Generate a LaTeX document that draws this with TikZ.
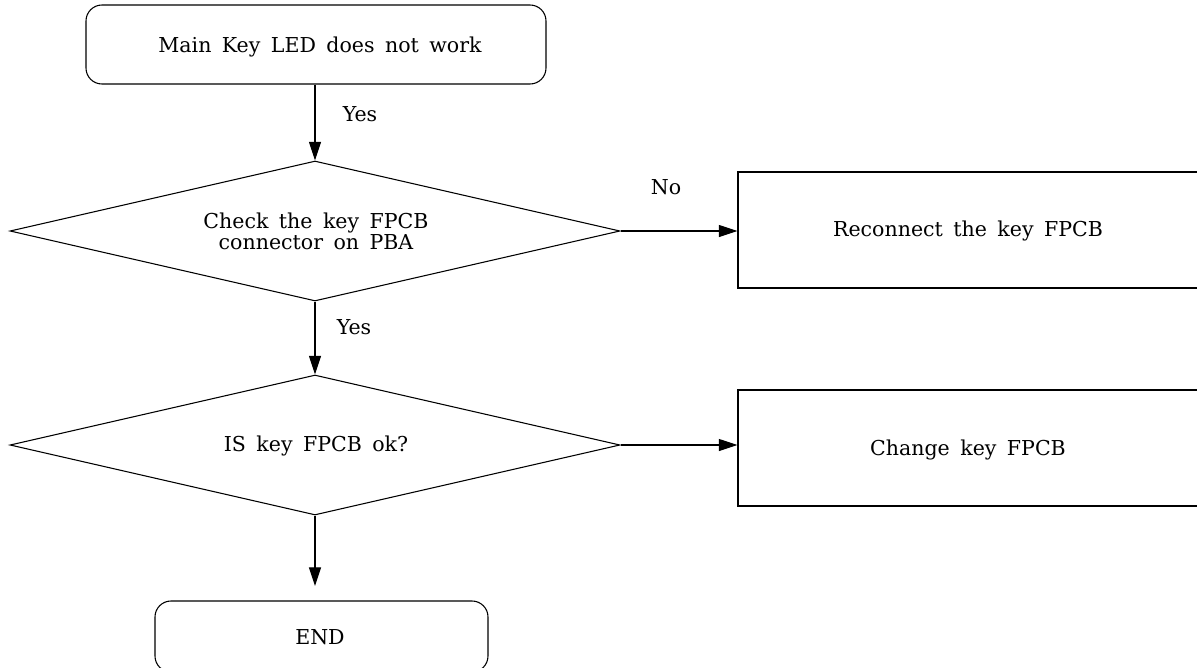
\documentclass[tikz,border=0pt]{standalone}
\usepackage{fontspec}
\setmainfont[WordSpace=1.6]{DejaVu Serif}
\usetikzlibrary{shapes.geometric,arrows.meta}
\begin{document}
\begin{tikzpicture}[x=0.75pt,y=-0.75pt,
  line width=0.8pt,
  txt/.style={font=\fontsize{15.4}{13.5}\selectfont},
  term/.style={draw,rounded corners=12pt,inner sep=0pt},
  proc/.style={draw,inner sep=0pt},
  dec/.style={draw,diamond,shape aspect=4.36,inner sep=0pt,minimum width=457.5pt,minimum height=105pt},
  arr/.style={-{Triangle[length=14pt,width=9pt]}},
  lbl/.style={txt}]
\useasboundingbox (0,0) rectangle (1197,668);
\clip (0,0) rectangle (1197,668);
\node[term,minimum width=345pt,minimum height=59.25pt] (start) at (316,44.5) {};
\node[txt] (startt) at (320,47) {Main Key LED does not work};
\node[dec] (d1) at (315,231) {};
\node[txt,align=center] (d1t) at (316,231) {Check the key FPCB\\connector on PBA};
\node[dec] (d2) at (315,445) {};
\node[txt] (d2t) at (316,446) {IS key FPCB ok?};
\node[proc,minimum width=352.5pt,minimum height=87pt] (r1) at (973,230) {};
\node[txt] (r1t) at (968,231) {Reconnect the key FPCB};
\node[proc,minimum width=352.5pt,minimum height=87pt] (r2) at (973,448) {};
\node[txt] (r2t) at (968,450) {Change key FPCB};
\node[term,minimum width=249.75pt,minimum height=53.25pt] (end) at (321.5,636.5) {};
\node[txt] (endt) at (320,637) {END};
\coordinate (endin) at (315,586);
\draw[arr] (start.south -| d1.north) -- (d1.north);
\draw[arr] (d1.east) -- (d1.east -| r1.west);
\draw[arr] (d1.south) -- (d2.north);
\draw[arr] (d2.east) -- (d2.east -| r2.west);
\draw[arr] (d2.south) -- (endin);
\node[lbl] (y1) at (360,114) {Yes};
\node[lbl] (no) at (666,187) {No};
\node[lbl] (y2) at (354,327) {Yes};
\end{tikzpicture}
\end{document}
